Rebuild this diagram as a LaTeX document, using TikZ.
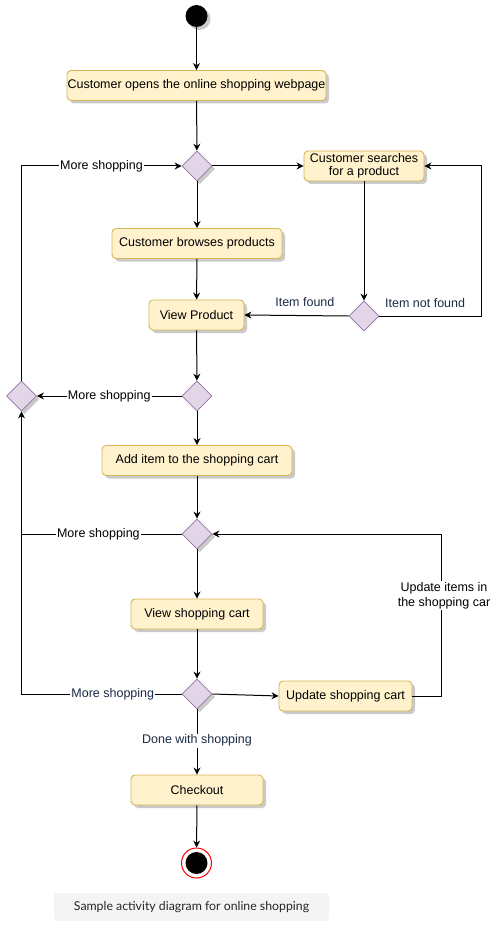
\documentclass[tikz,border=0pt]{standalone}
\usepackage{fontspec}
\setmainfont{Liberation Sans}
\newfontfamily\capfont{Lato}
\usepackage{tikz}
\usetikzlibrary{arrows.meta,shapes.geometric,shadows}
\definecolor{boxfill}{HTML}{FFF2CC}
\definecolor{boxdraw}{HTML}{D6B656}
\definecolor{decfill}{HTML}{E1D5E7}
\definecolor{decdraw}{HTML}{9673A6}
\definecolor{navy}{HTML}{1A2B45}
\definecolor{capfill}{HTML}{F4F4F4}
\tikzset{
  shade/.style={drop shadow={shadow xshift=3pt, shadow yshift=-3pt, fill=black!35, opacity=0.6}},
  act/.style={rectangle, rounded corners=4pt, fill=boxfill, draw=boxdraw, line width=0.9pt,
    inner sep=0pt, minimum height=30pt, align=center, font=\fontsize{12.5}{14}\selectfont, shade},
  dec/.style={diamond, aspect=1, fill=decfill, draw=decdraw, line width=0.8pt,
    inner sep=0pt, minimum width=30pt, minimum height=30pt},
  flow/.style={draw=black, line width=1pt, -{Stealth[length=7pt,width=7pt]}},
  link/.style={draw=black, line width=1pt},
  lab/.style={fill=white, inner sep=1pt, font=\fontsize{12.5}{14}\selectfont},
  navylab/.style={lab, text=navy},
}

\begin{document}
\begin{tikzpicture}[x=1pt,y=-1pt]
  \useasboundingbox (0,0) rectangle (496,928);

  % nodes
  \node[circle, fill=black, minimum size=22pt, inner sep=0pt, shade] (start) at (196.5,16) {};
  \node[act, minimum width=259pt] (open) at (196.5,85.5) {Customer opens the online shopping webpage};
  \node[dec, shade] (d1) at (197,166) {};
  \node[act, minimum width=120pt, font=\fontsize{12.5}{13.5}\selectfont] (search) at (364,166) {Customer searches\\for a product};
  \node[act, minimum width=170pt] (browse) at (197,243.5) {Customer browses products};
  \node[act, minimum width=95pt] (view) at (196.5,315) {View Product};
  \node[dec] (d2) at (364,316) {};
  \node[dec] (d3) at (197,396) {};
  \node[dec, shade] (merge) at (21.5,396) {};
  \node[act, minimum width=190pt] (add) at (197,460.5) {Add item to the shopping cart};
  \node[dec, shade] (d4) at (197,534) {};
  \node[act, minimum width=132pt] (cart) at (197,614) {View shopping cart};
  \node[dec, shade] (d5) at (197,694) {};
  \node[act, minimum width=133pt] (upd) at (345.5,696) {Update shopping cart};
  \node[act, minimum width=132pt] (checkout) at (197,790) {Checkout};
  \node[circle, draw=red, fill=white, line width=1pt, minimum size=30pt, inner sep=0pt] (stop) at (196.5,863) {};
  \node[circle, fill=black, minimum size=22pt, inner sep=0pt] (stopin) at (stop) {};

  \coordinate (cTop) at (21.5,166);
  \coordinate (cMid) at (21.5,534);
  \coordinate (cLow) at (21.5,694);
  \coordinate (cNF1) at (481,316);
  \coordinate (cNF2) at (481,166);
  \coordinate (cUp1) at (441,696);
  \coordinate (cUp2) at (441,534);

  % main flow
  \draw[flow] (start) -- (open);
  \draw[flow] (open) -- (d1);
  \draw[flow] (d1) -- (browse);
  \draw[flow] (d1.east) -- (search.west);
  \draw[flow] (search) -- (d2);
  \draw[flow] (d2.west) -- node[navylab, pos=0.42, above=7pt, fill=none] (lfound) {Item found} (view.east);
  \draw[flow] (d2.east) -- node[navylab, pos=0.45, above=7pt, fill=none] (lnot) {Item not found} (cNF1) -- (cNF2) -- (search.east);
  \draw[flow] (browse) -- (view);
  \draw[flow] (view) -- (d3);
  \draw[flow] (d3.west) -- node[lab] (lmore2) {More shopping} (merge.east);
  \draw[flow] (merge.north) -- (cTop) -- node[lab] (lmore1) {More shopping} (d1.west);
  \draw[flow] (d3) -- (add);
  \draw[flow] (add) -- (d4);
  \draw[link] (d4.west) -- node[lab, pos=0.52] (lmore3) {More shopping} (cMid);
  \draw[flow] (d4) -- (cart);
  \draw[flow] (cart) -- (d5);
  \draw[flow] (d5.west) -- node[navylab, pos=0.43] (lmore4) {More shopping} (cLow) -- (merge.south);
  \draw[flow] (d5.east) -- (upd.west);
  \draw[flow] (upd.east) -- (cUp1) -- node[lab, pos=0.62, xshift=3pt, align=center, font=\fontsize{12.5}{15}\selectfont] (lupd) {Update items in\\the shopping car} (cUp2) -- (d4.east);
  \draw[flow] (d5) -- node[navylab, pos=0.48] (ldone) {Done with shopping} (checkout);
  \draw[flow] (checkout) -- (stop);

  % caption
  \node[fill=capfill, rounded corners=3pt, minimum width=275pt, minimum height=28pt, inner sep=0pt,
    font=\capfont\fontsize{12.3}{14}\selectfont, text=black!85] (caption) at (191.5,907) {Sample activity diagram for online shopping};
\end{tikzpicture}
\end{document}
